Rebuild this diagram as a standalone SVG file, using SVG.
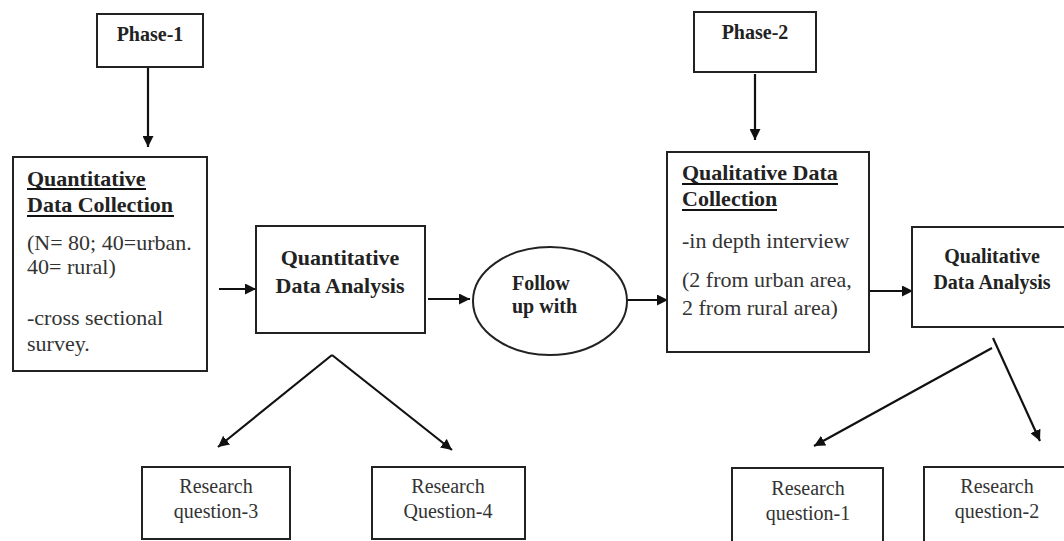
<svg xmlns="http://www.w3.org/2000/svg" width="1064" height="541" viewBox="0 0 1064 541">
<style>
.box{fill:#fff;stroke:#222;stroke-width:2}
.ln{fill:none;stroke:#111;stroke-width:2.2}
text{font-family:'Liberation Serif','Times New Roman','DejaVu Serif',serif}
.b{font-weight:bold;fill:#222}
.r{fill:#333}
.u{stroke:#111;stroke-width:2}
</style>
<defs>
<marker id="ah" viewBox="0 0 10 10" refX="10" refY="5" markerWidth="5" markerHeight="5" markerUnits="strokeWidth" orient="auto">
<path d="M0,0 L10,5 L0,10 z" fill="#111"/>
</marker>
</defs>
<rect width="1064" height="541" fill="#fff"/>
<g id="connectors">
<line class="ln" x1="148" y1="67" x2="148" y2="147" marker-end="url(#ah)"/>
<line class="ln" x1="755" y1="74" x2="755" y2="140" marker-end="url(#ah)"/>
<line class="ln" x1="219" y1="289" x2="256" y2="289" marker-end="url(#ah)"/>
<line class="ln" x1="428" y1="299" x2="470" y2="299" marker-end="url(#ah)"/>
<line class="ln" x1="622" y1="300" x2="668" y2="300" marker-end="url(#ah)"/>
<line class="ln" x1="869" y1="291" x2="913" y2="291" marker-end="url(#ah)"/>
<line class="ln" x1="332" y1="355" x2="218" y2="447" marker-end="url(#ah)"/>
<line class="ln" x1="332" y1="355" x2="452" y2="450" marker-end="url(#ah)"/>
<line class="ln" x1="993" y1="338" x2="1040" y2="441" marker-end="url(#ah)"/>
<line class="ln" x1="992" y1="348" x2="814" y2="446" marker-end="url(#ah)"/>
</g>
<g id="phase1">
<rect class="box" x="97" y="14" width="106" height="53"/>
<text class="b" x="150" y="41" font-size="20" text-anchor="middle">Phase-1</text>
</g>
<g id="phase2">
<rect class="box" x="694" y="12" width="122" height="60"/>
<text class="b" x="755" y="39" font-size="20" text-anchor="middle">Phase-2</text>
</g>
<g id="quant-collection">
<rect class="box" x="13" y="157" width="194" height="214"/>
<text class="b" x="27" y="186" font-size="22">Quantitative</text>
<line class="u" x1="27" y1="189" x2="146" y2="189"/>
<text class="b" x="27" y="212" font-size="22">Data Collection</text>
<line class="u" x1="27" y1="216" x2="174" y2="216"/>
<text class="r" x="27" y="250" font-size="22">(N= 80; 40=urban.</text>
<text class="r" x="27" y="274" font-size="22">40= rural)</text>
<text class="r" x="27" y="325" font-size="22">-cross sectional</text>
<text class="r" x="27" y="351" font-size="22">survey.</text>
</g>
<g id="quant-analysis">
<rect class="box" x="256" y="226" width="169" height="107"/>
<text class="b" x="340" y="265" font-size="22" text-anchor="middle">Quantitative</text>
<text class="b" x="340" y="293" font-size="22" text-anchor="middle">Data Analysis</text>
</g>
<g id="follow-up">
<ellipse cx="550" cy="301" rx="77" ry="54" fill="#fff" stroke="#222" stroke-width="2"/>
<text class="b" x="512" y="290" font-size="20">Follow</text>
<text class="b" x="512" y="313" font-size="20">up with</text>
</g>
<g id="qual-collection">
<rect class="box" x="667" y="152" width="202" height="200"/>
<text class="b" x="682" y="180" font-size="22">Qualitative Data</text>
<line class="u" x1="682" y1="184" x2="838" y2="184"/>
<text class="b" x="682" y="206" font-size="22">Collection</text>
<line class="u" x1="682" y1="210" x2="777" y2="210"/>
<text class="r" x="682" y="248" font-size="22">-in depth interview</text>
<text class="r" x="682" y="287" font-size="22">(2 from urban area,</text>
<text class="r" x="682" y="315" font-size="22">2 from rural area)</text>
</g>
<g id="qual-analysis">
<rect class="box" x="912" y="227" width="160" height="100"/>
<text class="b" x="992" y="263" font-size="20" text-anchor="middle">Qualitative</text>
<text class="b" x="992" y="289" font-size="20" text-anchor="middle">Data Analysis</text>
</g>
<g id="rq3">
<rect class="box" x="142" y="467" width="148" height="72"/>
<text class="r" x="216" y="493" font-size="20" text-anchor="middle">Research</text>
<text class="r" x="216" y="518" font-size="20" text-anchor="middle">question-3</text>
</g>
<g id="rq4">
<rect class="box" x="372" y="467" width="153" height="72"/>
<text class="r" x="448" y="493" font-size="20" text-anchor="middle">Research</text>
<text class="r" x="448" y="518" font-size="20" text-anchor="middle">Question-4</text>
</g>
<g id="rq1">
<rect class="box" x="732" y="468" width="151" height="80"/>
<text class="r" x="808" y="495" font-size="20" text-anchor="middle">Research</text>
<text class="r" x="808" y="520" font-size="20" text-anchor="middle">question-1</text>
</g>
<g id="rq2">
<rect class="box" x="924" y="467" width="150" height="80"/>
<text class="r" x="997" y="493" font-size="20" text-anchor="middle">Research</text>
<text class="r" x="997" y="518" font-size="20" text-anchor="middle">question-2</text>
</g>
</svg>
